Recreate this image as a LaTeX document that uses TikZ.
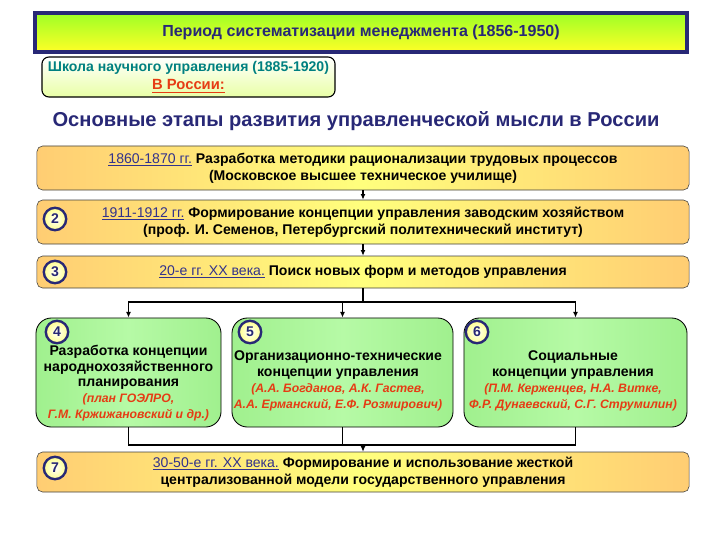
\documentclass[tikz,border=0pt]{standalone}
\usepackage{fontspec}
\setmainfont{Liberation Sans}
\usepackage{xcolor}
\usepackage{tikz}
\usetikzlibrary{arrows.meta,positioning,calc}
\definecolor{navy}{RGB}{40,40,118}
\definecolor{datecol}{RGB}{50,50,140}
\definecolor{schoolteal}{RGB}{0,128,128}
\definecolor{namered}{RGB}{230,60,20}
\definecolor{stageedge}{RGB}{255,205,115}
\definecolor{stagemid}{RGB}{255,255,125}
\definecolor{branchedge}{RGB}{160,240,142}
\definecolor{branchmid}{RGB}{182,250,166}
\newcommand{\period}[1]{\textcolor{datecol}{\mdseries\underline{#1}}}
\newcommand{\names}[1]{{\fontsize{8.7}{11.3}\selectfont\textcolor{namered}{\bfseries\itshape #1}}}

\begin{document}
\begin{tikzpicture}[x=0.025cm, y=-0.025cm,
    topbar/.style={draw=navy, line width=2.4pt, top color=green!45!yellow!85, bottom color=yellow!85, minimum width=16.3cm, minimum height=0.975cm, text=navy, font=\bfseries\fontsize{11.4}{13}\selectfont},
    school/.style={draw=black, line width=0.8pt, rounded corners=5pt, top color=white, bottom color=green!25!yellow!35, minimum width=7.325cm, minimum height=1cm, align=center, inner sep=1pt, font=\bfseries\fontsize{10}{12}\selectfont},
    heading/.style={text=navy, font=\bfseries\fontsize{14.3}{16}\selectfont},
    stage/.style={draw=black!75, rounded corners=4pt, left color=stageedge, right color=stageedge, middle color=stagemid, minimum width=16.3cm, align=center, font=\bfseries\fontsize{10}{12}\selectfont},
    branch/.style={draw=black, line width=0.6pt, rounded corners=11pt, left color=branchedge, right color=branchedge, middle color=branchmid, minimum height=2.725cm},
    branchtext/.style={align=center, font=\bfseries\fontsize{10}{11.3}\selectfont},
    num/.style={circle, draw=navy, line width=1.7pt, inner color=white, outer color=yellow!45, minimum size=0.56cm, inner sep=0pt, text=navy, font=\bfseries\fontsize{10}{11}\selectfont},
    link/.style={-{Latex[length=4pt,width=3.5pt]}, line width=0.8pt},
    joint/.style={line width=1.2pt}
]
\useasboundingbox (0,0) rectangle (720,540);

\node[topbar] (top) at (361,32.5) {Период систематизации менеджмента (1856-1950)};
\node[school] (school) at (188.5,77) {\textcolor{schoolteal}{Школа научного управления (1885-1920)}\\[1pt]\textcolor{namered}{\fontsize{10.5}{12}\selectfont\underline{В России:}}};
\node[heading] (title) at (356,121) {Основные этапы развития управленческой мысли в России};

\node[stage, minimum height=1.1cm] (a) at (363,168) {\period{1860-1870 гг.} Разработка методики рационализации трудовых процессов\\(Московское высшее техническое училище)};
\node[stage, minimum height=1.1cm] (b) at (363,222) {\period{1911-1912 гг.} Формирование концепции управления заводским хозяйством\\(проф. И. Семенов, Петербургский политехнический институт)};
\node[stage, minimum height=0.8cm] (c) at (363,272) {\period{20-е гг. ХХ века.} Поиск новых форм и методов управления};

\node[branch, minimum width=4.625cm] (d) at (128.5,372.5) {};
\node[branch, minimum width=5.525cm] (e) at (342.5,372.5) {};
\node[branch, minimum width=5.575cm] (f) at (575.5,372.5) {};

\node[branchtext] (dtext) at (128.5,383) {Разработка концепции\\народнохозяйственного\\планирования\\\names{(план ГОЭЛРО,}\\\names{Г.М. Кржижановский и др.)}};
\node[branchtext] (etext) at (338,381) {Организационно-технические\\концепции управления\\\names{(А.А. Богданов, А.К. Гастев,}\\\names{А.А. Ерманский, Е.Ф. Розмирович)}};
\node[branchtext] (ftext) at (573,381) {Социальные\\концепции управления\\\names{(П.М. Керженцев, Н.А. Витке,}\\\names{Ф.Р. Дунаевский, С.Г. Струмилин)}};

\node[stage, minimum height=1cm] (g) at (363,472) {\period{30-50-е гг. ХХ века.} Формирование и использование жесткой\\централизованной модели государственного управления};

\node[num] (n2) at (55,219) {2};
\node[num] (n3) at (55,272) {3};
\node[num] (n4) at (57,332) {4};
\node[num] (n5) at (250,332) {5};
\node[num] (n6) at (477,332) {6};
\node[num] (n7) at (55,468) {7};

\coordinate (split) at (363,302);
\coordinate (merge) at (363,445);

\draw[link] (a) -- (b);
\draw[link] (b) -- (c);
\draw[joint] (c) -- (split);
\draw[link, joint] (split) -| (d);
\draw[link, joint] (split) -| (e);
\draw[link, joint] (split) -| (f);
\draw[joint] (d) |- (merge);
\draw[joint] (f) |- (merge);
\draw[joint] (e) |- (merge);
\draw[link] (merge) -- (g);
\end{tikzpicture}
\end{document}
